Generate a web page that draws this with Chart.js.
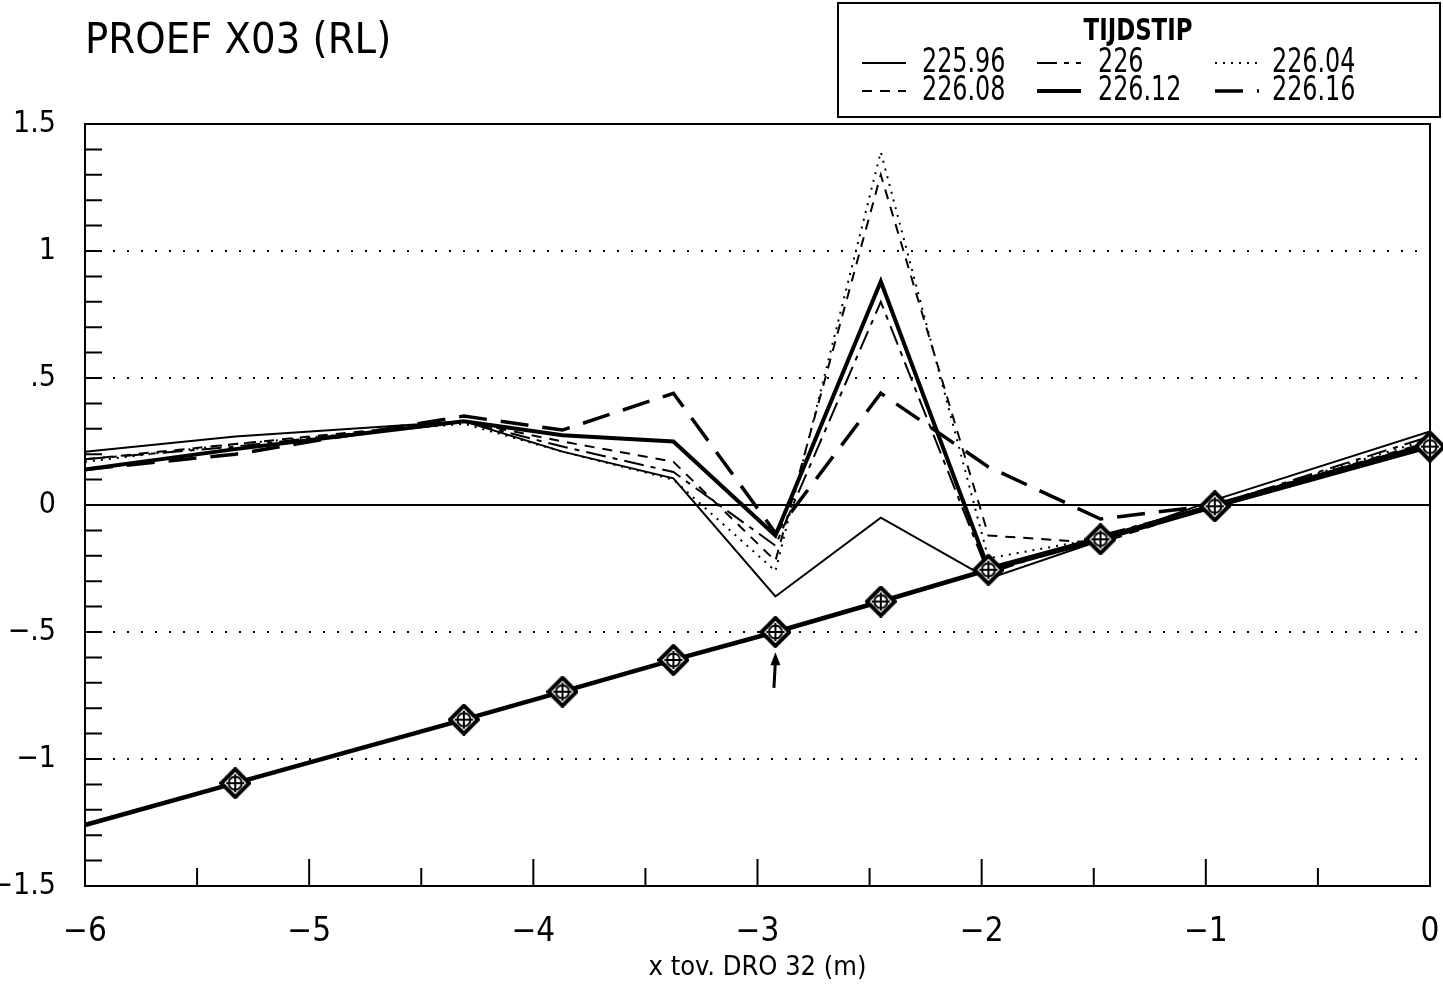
<!DOCTYPE html>
<html>
<head>
<meta charset="utf-8">
<title>PROEF X03 (RL)</title>
<script src="https://cdn.jsdelivr.net/npm/chart.js@4.4.1/dist/chart.umd.min.js"></script>
<style>
    html, body { margin: 0; padding: 0; background: #fff; }
    #wrap { width: 1443px; height: 984px; }
</style>
</head>
<body>
<div id="wrap"><canvas id="proefChart" width="1443" height="984"></canvas></div>
<script>
// positions along the profile (m tov. DRO 32)
var xPositions = [-6, -5.33, -4.31, -3.87, -3.375, -2.92, -2.45, -1.97, -1.47, -0.96, 0];

// bed profile (thick line with markers)
var bedLevel = [-1.26, -1.095, -0.845, -0.735, -0.61, -0.50, -0.38, -0.255, -0.135, -0.005, 0.23];

// water levels per tijdstip
var tijdstipLabels = ['225.96', '226', '226.04', '226.08', '226.12', '226.16'];
var level22596 = [0.21, 0.27, 0.33, 0.21, 0.105, -0.36, -0.05, -0.29, -0.14, 0.02, 0.29];
var level226   = [0.18, 0.23, 0.33, 0.23, 0.13, -0.16, 0.80, -0.27, -0.12, 0.00, 0.27];
var level22604 = [0.17, 0.24, 0.32, 0.21, 0.10, -0.26, 1.39, -0.21, -0.13, 0.00, 0.26];
var level22608 = [0.18, 0.24, 0.33, 0.25, 0.17, -0.22, 1.30, -0.12, -0.15, 0.00, 0.25];
var level22612 = [0.14, 0.22, 0.33, 0.275, 0.25, -0.12, 0.88, -0.25, -0.13, 0.00, 0.24];
var level22616 = [0.14, 0.20, 0.35, 0.295, 0.44, -0.11, 0.44, 0.15, -0.055, 0.00, 0.24];

// arrow annotation below the dip
var arrowX = -2.92;
var arrowFrom = -0.72;
var arrowTo = -0.58;

var plotFont = "'DejaVu Sans Condensed', 'DejaVu Sans', sans-serif";

function toPoints(xs, ys) {
    return xs.map(function (x, i) { return { x: x, y: ys[i] }; });
}

function isHalf(v) {
    return Math.abs(v * 2 - Math.round(v * 2)) < 1e-6;
}

function fmtTick(v) {
    var s = String(Math.round(v * 10) / 10);
    if (s.indexOf('0.') === 0) s = s.substring(1);
    if (s.indexOf('-0.') === 0) s = '-' + s.substring(2);
    return s.replace('-', '\u2212');
}

// diamond marker with circle and cross
var marker = document.createElement('canvas');
marker.width = 32;
marker.height = 32;
(function () {
    var c = marker.getContext('2d');
    c.fillStyle = '#fff';
    c.strokeStyle = '#000';
    c.lineWidth = 4;
    c.beginPath();
    c.moveTo(16, 2); c.lineTo(30, 16); c.lineTo(16, 30); c.lineTo(2, 16);
    c.closePath();
    c.fill();
    c.stroke();
    c.lineWidth = 2;
    c.beginPath();
    c.arc(16, 16, 6.5, 0, Math.PI * 2);
    c.stroke();
    c.beginPath();
    c.moveTo(16, 7); c.lineTo(16, 25);
    c.moveTo(7, 16); c.lineTo(25, 16);
    c.stroke();
})();

var lineStyles = [
    { width: 2, dash: [] },
    { width: 2, dash: [20, 7, 5, 7] },
    { width: 2, dash: [2, 6] },
    { width: 2, dash: [10, 8] },
    { width: 4, dash: [] },
    { width: 3.5, dash: [28, 14] }
];
var levelSeries = [level22596, level226, level22604, level22608, level22612, level22616];

var datasets = [{
    label: '',
    data: toPoints(xPositions, bedLevel),
    borderColor: '#000',
    borderWidth: 4.5,
    pointStyle: marker,
    pointRadius: function (ctx) { return ctx.dataIndex === 0 ? 0 : 14; },
    clip: false,
    isBed: true
}];
levelSeries.forEach(function (vals, i) {
    datasets.push({
        label: tijdstipLabels[i],
        data: toPoints(xPositions, vals),
        borderColor: '#000',
        borderWidth: lineStyles[i].width,
        borderDash: lineStyles[i].dash,
        pointRadius: 0
    });
});

// narrow text, like the plotter font
function narrowText(ctx, text, x, y, sx) {
    ctx.save();
    ctx.translate(x, y);
    ctx.scale(sx, 1);
    ctx.fillText(text, 0, 0);
    ctx.restore();
}

// frame, inward ticks, arrow and legend box
var plotExtras = {
    id: 'plotExtras',
    afterDraw: function (chart) {
        var ctx = chart.ctx;
        var a = chart.chartArea;
        var xs = chart.scales.x;
        var ys = chart.scales.y;
        ctx.save();
        ctx.setLineDash([]);
        ctx.strokeStyle = '#000';
        ctx.fillStyle = '#000';
        ctx.lineWidth = 2;
        ctx.strokeRect(a.left, a.top, a.right - a.left, a.bottom - a.top);

        ctx.beginPath();
        ys.ticks.forEach(function (t) {
            var py = ys.getPixelForValue(t.value);
            ctx.moveTo(a.left, py);
            ctx.lineTo(a.left + 17, py);
        });
        xs.ticks.forEach(function (t) {
            var px = xs.getPixelForValue(t.value);
            var len = Number.isInteger(t.value) ? 27 : 18;
            ctx.moveTo(px, a.bottom);
            ctx.lineTo(px, a.bottom - len);
        });
        ctx.stroke();

        // arrow
        var ax = xs.getPixelForValue(arrowX);
        var ay0 = ys.getPixelForValue(arrowFrom);
        var ay1 = ys.getPixelForValue(arrowTo);
        ctx.lineWidth = 3;
        ctx.beginPath();
        ctx.moveTo(ax - 1.5, ay0);
        ctx.lineTo(ax, ay1 + 8);
        ctx.stroke();
        ctx.beginPath();
        ctx.moveTo(ax, ay1);
        ctx.lineTo(ax - 5, ay1 + 13);
        ctx.lineTo(ax + 5, ay1 + 13);
        ctx.closePath();
        ctx.fill();

        // legend box
        var bx = 838, by = 3, bw = 602, bh = 114;
        ctx.lineWidth = 2;
        ctx.strokeRect(bx, by, bw, bh);
        ctx.textBaseline = 'middle';
        ctx.textAlign = 'center';
        ctx.font = 'bold 31px ' + plotFont;
        narrowText(ctx, 'TIJDSTIP', bx + 300, by + 29, 0.82);
        ctx.textAlign = 'left';
        ctx.font = '34px ' + plotFont;
        var colSample = [24, 199, 377];
        var colText = [84, 260, 434];
        var rowY = [60, 88];
        var items = chart.data.datasets.filter(function (d) { return !d.isBed; });
        items.forEach(function (d, i) {
            var col = i % 3, row = Math.floor(i / 3);
            var y = by + rowY[row];
            ctx.lineWidth = d.borderWidth;
            ctx.setLineDash(d.borderDash || []);
            ctx.beginPath();
            ctx.moveTo(bx + colSample[col], y);
            ctx.lineTo(bx + colSample[col] + 44, y);
            ctx.stroke();
            ctx.setLineDash([]);
            narrowText(ctx, d.label, bx + colText[col], y, 0.78);
        });
        ctx.restore();
    }
};

var proef = document.getElementById('proefChart').getContext('2d');
var proefChart = new Chart(proef, {
    type: 'line',
    data: { datasets: datasets },
    options: {
        responsive: false,
        animation: false,
        events: [],
        layout: { autoPadding: false, padding: { right: 0, top: 0, left: 0, bottom: 0 } },
        elements: { line: { tension: 0, borderCapStyle: 'butt' } },
        plugins: {
            legend: { display: false },
            tooltip: { enabled: false },
            title: {
                display: true,
                text: 'PROEF X03 (RL)',
                align: 'start',
                fullSize: false,
                color: '#000',
                font: { family: plotFont, size: 43, weight: 'normal', lineHeight: 1 },
                padding: { top: 20, bottom: 61 }
            }
        },
        scales: {
            x: {
                type: 'linear',
                min: -6,
                max: 0,
                afterFit: function (s) {
                    s.height = 98;
                    s.paddingLeft = 0;
                    s.paddingRight = 13;
                },
                grid: { display: false, drawTicks: false },
                border: { display: false },
                ticks: {
                    stepSize: 0.5,
                    autoSkip: false,
                    maxRotation: 0,
                    padding: 27,
                    color: '#000',
                    font: { family: plotFont, size: 33 },
                    callback: function (v) { return Number.isInteger(v) ? fmtTick(v) : ''; }
                },
                title: {
                    display: true,
                    text: 'x tov. DRO 32 (m)',
                    color: '#000',
                    font: { family: plotFont, size: 27 },
                    padding: { top: 0, bottom: 0 }
                }
            },
            y: {
                min: -1.5,
                max: 1.5,
                afterFit: function (s) { s.width = 85; },
                grid: {
                    drawTicks: false,
                    lineWidth: 2,
                    color: function (c) {
                        return c.tick && isHalf(c.tick.value) ? '#000' : 'rgba(0,0,0,0)';
                    }
                },
                border: {
                    display: false,
                    dash: function (c) {
                        return c.tick && Math.abs(c.tick.value) < 1e-6 ? [] : [2, 12];
                    }
                },
                ticks: {
                    stepSize: 0.1,
                    autoSkip: false,
                    padding: 29,
                    color: '#000',
                    font: { family: plotFont, size: 30 },
                    callback: function (v) { return isHalf(v) ? fmtTick(v) : ''; }
                }
            }
        }
    },
    plugins: [plotExtras]
});
</script>
</body>
</html>
